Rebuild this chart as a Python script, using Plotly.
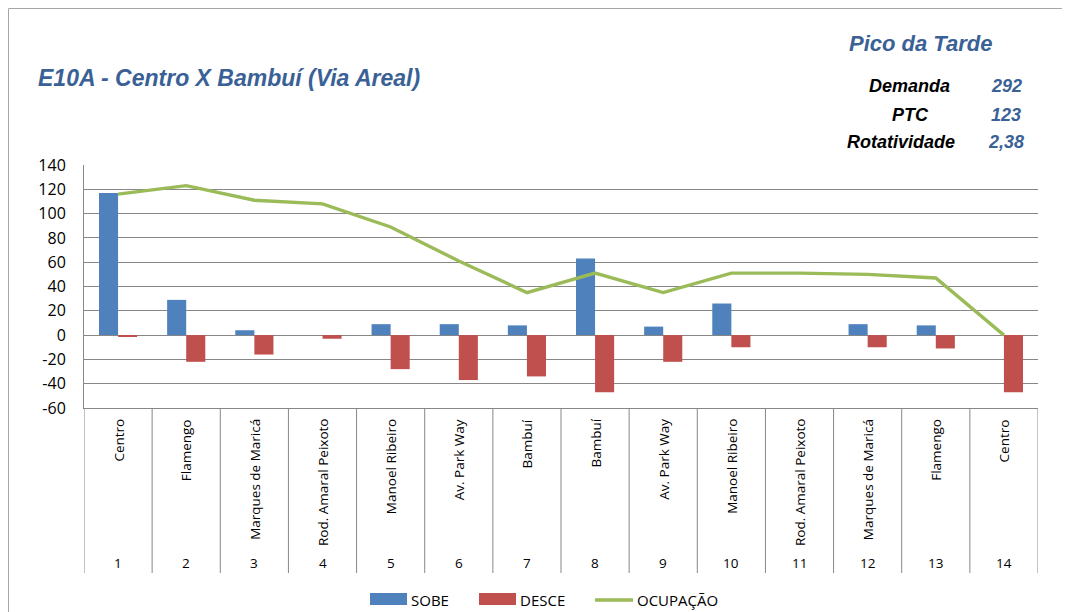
"""E10A - Centro X Bambuí (Via Areal): sobe / desce / ocupação por ponto (Pico da Tarde)"""
import plotly.graph_objects as go

# Data
stops = ['Centro', 'Flamengo', 'Marques de Maricá', 'Rod. Amaral Peixoto', 'Manoel Ribeiro',
         'Av. Park Way', 'Bambuí', 'Bambuí', 'Av. Park Way', 'Manoel Ribeiro',
         'Rod. Amaral Peixoto', 'Marques de Maricá', 'Flamengo', 'Centro']
stop_numbers = [1, 2, 3, 4, 5, 6, 7, 8, 9, 10, 11, 12, 13, 14]
sobe = [117, 29, 4, 0, 9, 9, 8, 63, 7, 26, 0, 9, 8, 0]
desce = [-1, -22, -16, -3, -28, -37, -34, -47, -22, -10, 0, -10, -11, -47]
ocupacao = [116, 123, 111, 108, 89, 61, 35, 51, 35, 51, 51, 50, 47, 0]

y_ticks = [-60, -40, -20, 0, 20, 40, 60, 80, 100, 120, 140]
y_tick_text = ['-60', '-40', '-20', '0', '20', '40', '60', '80', '100', '120', '140']

summary_labels = ['Demanda', 'PTC', 'Rotatividade']
summary_values = ['292', '123', '2,38']

BLUE = '#4F81BD'
RED = '#C0504D'
GREEN = '#9BBB59'
TITLE_BLUE = '#3A6196'
GRID = '#878787'
FONT = 'Open Sans'

# the page body adds an 8px margin, so the figure is drawn 8px smaller
OFFSET = 8
W, H = 1070 - OFFSET, 612 - OFFSET
# plot area in screen pixels
PL, PR, PT, PB = 84, 1038, 165, 408


def px(x: float) -> float:
    """screen pixel x -> paper x"""
    return (x - PL) / (PR - PL)


def py(y: float) -> float:
    """screen pixel y -> paper y"""
    return (PB - y) / (PB - PT)


fig = go.Figure()
fig.add_trace(go.Bar(x=stop_numbers, y=sobe, name='SOBE', marker_color=BLUE,
                     marker_line_width=0))
fig.add_trace(go.Bar(x=stop_numbers, y=desce, name='DESCE', marker_color=RED,
                     marker_line_width=0))
fig.add_trace(go.Scatter(x=stop_numbers, y=ocupacao, name='OCUPAÇÃO', mode='lines',
                         line=dict(color=GREEN, width=3.4)))

shapes = []
annotations = []

# category separators under the plot
for i in range(len(stop_numbers) + 1):
    shapes.append(dict(type='line', xref='x', yref='paper', x0=i + 0.5, x1=i + 0.5,
                       y0=0, y1=py(573), line=dict(color=GRID, width=1)))

# two-level category labels
for num, name in zip(stop_numbers, stops):
    annotations.append(dict(xref='x', yref='paper', x=num, y=py(417), text=name,
                            textangle=-90, xanchor='center', yanchor='top', showarrow=False,
                            font=dict(family=FONT, size=13.5, color='#000000')))
    annotations.append(dict(xref='x', yref='paper', x=num, y=py(563), text=str(num),
                            xanchor='center', yanchor='middle', showarrow=False,
                            font=dict(family=FONT, size=13.5, color='#000000')))

# outer chart frame (left and top edges)
shapes.append(dict(type='line', xref='paper', yref='paper', x0=px(8.5), x1=px(8.5),
                   y0=py(8.5), y1=py(640), line=dict(color='#A6A6A6', width=1)))
shapes.append(dict(type='line', xref='paper', yref='paper', x0=px(8.5), x1=px(1100),
                   y0=py(8.5), y1=py(8.5), line=dict(color='#A6A6A6', width=1)))

# titles
annotations.append(dict(xref='paper', yref='paper', x=px(36), y=py(78),
                        text='<b><i>E10A - Centro X Bambuí (Via Areal)</i></b>',
                        xanchor='left', yanchor='middle', showarrow=False,
                        font=dict(family='Liberation Sans', size=23, color=TITLE_BLUE)))
annotations.append(dict(xref='paper', yref='paper', x=px(847), y=py(44),
                        text='<b><i>Pico da Tarde</i></b>', xanchor='left', yanchor='middle',
                        showarrow=False, font=dict(family='Liberation Sans', size=22,
                                                   color=TITLE_BLUE)))

label_x = [909, 910, 901]
rows_y = [86, 115, 142]
for lab, val, lx, ry in zip(summary_labels, summary_values, label_x, rows_y):
    annotations.append(dict(xref='paper', yref='paper', x=px(lx), y=py(ry),
                            text='<b><i>' + lab + '</i></b>', xanchor='center',
                            yanchor='middle', showarrow=False,
                            font=dict(family='Liberation Sans', size=18, color='#000000')))
    annotations.append(dict(xref='paper', yref='paper', x=px(1006), y=py(ry),
                            text='<b><i>' + val + '</i></b>', xanchor='center',
                            yanchor='middle', showarrow=False,
                            font=dict(family='Liberation Sans', size=18, color=TITLE_BLUE)))

# custom legend (wide Excel-style swatches)
legend_items = [('SOBE', BLUE, 'rect', 370, 407), ('DESCE', RED, 'rect', 479, 516),
                ('OCUPAÇÃO', GREEN, 'line', 595, 633)]
for name, color, kind, x0, x1 in legend_items:
    if kind == 'rect':
        shapes.append(dict(type='rect', xref='paper', yref='paper', x0=px(x0), x1=px(x1),
                           y0=py(605), y1=py(593), fillcolor=color, line=dict(width=0)))
    else:
        shapes.append(dict(type='line', xref='paper', yref='paper', x0=px(x0), x1=px(x1),
                           y0=py(600), y1=py(600), line=dict(color=color, width=3.4)))
    annotations.append(dict(xref='paper', yref='paper', x=px(x1 + 2), y=py(600), text=name,
                            xanchor='left', yanchor='middle', showarrow=False,
                            font=dict(family=FONT, size=15, color='#000000')))

fig.update_layout(
    width=W, height=H,
    margin=dict(l=PL - OFFSET, r=1070 - PR, t=PT - OFFSET, b=612 - PB, pad=0),
    paper_bgcolor='white', plot_bgcolor='white',
    barmode='group', bargap=0.44, bargroupgap=0,
    showlegend=False,
    shapes=shapes, annotations=annotations,
    font=dict(family=FONT, color='#000000'),
)
fig.update_xaxes(range=[0.5, 14.5], showticklabels=False, showgrid=False, zeroline=False,
                 showline=True, linecolor=GRID, linewidth=1, ticks='')
fig.update_yaxes(range=[-60, 140], tickmode='array', tickvals=y_ticks, ticktext=y_tick_text,
                 showgrid=True, gridcolor=GRID, gridwidth=1, zeroline=False, showline=True,
                 linecolor=GRID, linewidth=1, ticks='', ticklabelstandoff=14,
                 tickfont=dict(family=FONT, size=16))

fig.write_html("out.html")
